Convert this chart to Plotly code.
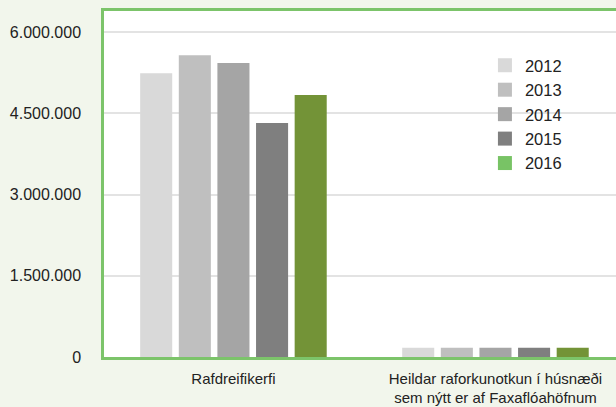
import plotly.graph_objects as go

# Données
categories = ["Rafdreifikerfi", "Heildar raforkunotkun í húsnæði<br>sem nýtt er af Faxaflóahöfnum"]
years = ["2012", "2013", "2014", "2015", "2016"]
values = {
    "2012": [5240000, 172000],
    "2013": [5575000, 172000],
    "2014": [5430000, 172000],
    "2015": [4320000, 172000],
    "2016": [4840000, 172000],
}
y_tickvals = [0, 1500000, 3000000, 4500000, 6000000]

bar_colors = ["#d9d9d9", "#bfbfbf", "#a5a5a5", "#7f7f7f", "#739337"]
legend_colors = ["#d9d9d9", "#bfbfbf", "#a5a5a5", "#7f7f7f", "#78c365"]

FONT = "Liberation Sans, Arial, sans-serif"
GREEN = "#7cc46a"
PAPER = "#f2f6ec"

fig = go.Figure()

# --- Barres ---
for year, col in zip(years, bar_colors):
    fig.add_trace(go.Bar(
        x=categories,
        y=values[year],
        name=year,
        marker=dict(color=col, line=dict(width=0)),
        showlegend=False,
    ))

# --- Légende (carrés) ---
for year, col in zip(years, legend_colors):
    fig.add_trace(go.Scatter(
        x=[None], y=[None],
        mode="markers",
        name=year,
        marker=dict(symbol="square", size=14, color=col),
    ))

fig.update_layout(
    width=616,
    height=407,
    barmode="group",
    bargap=0.263,
    bargroupgap=0.17,
    separators=",.",
    paper_bgcolor=PAPER,
    plot_bgcolor="white",
    font=dict(family=FONT, size=16, color="#222222"),
    margin=dict(l=104, r=0, t=11, b=50),
    legend=dict(
        x=0.744, y=0.893, xanchor="left", yanchor="top",
        bgcolor="rgba(0,0,0,0)",
        traceorder="normal",
        font=dict(family=FONT, size=16.5, color="#222222"),
    ),
    xaxis=dict(
        range=[-0.494, 1.46],
        automargin=False,
        showline=True,
        linecolor=GREEN,
        linewidth=2.5,
        mirror=True,
        showgrid=False,
        ticks="",
        ticklabelstandoff=6,
        tickfont=dict(family=FONT, size=15),
    ),
    yaxis=dict(
        range=[0, 6390000],
        automargin=False,
        tickvals=y_tickvals,
        tickformat=",d",
        showline=True,
        linecolor=GREEN,
        linewidth=2.5,
        showgrid=True,
        gridcolor="#e3e3e3",
        gridwidth=1.5,
        zeroline=False,
        ticks="",
        ticklabelstandoff=17,
        tickfont=dict(family=FONT, size=16),
    ),
)

# page sans marge pour que la figure occupe toute la fenêtre
fig.write_html(
    "out.html",
    config={"displayModeBar": False},
    post_script=f"document.body.style.margin='0';document.body.style.background='{PAPER}';",
)
